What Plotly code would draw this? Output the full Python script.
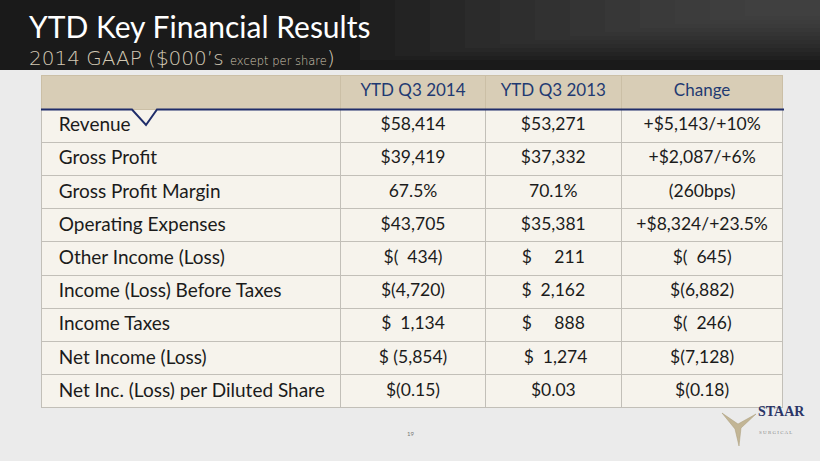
import plotly.graph_objects as go

W, H = 820, 461

# table data
headers = ["", "YTD Q3 2014", "YTD Q3 2013", "Change"]
items = [
    "Revenue",
    "Gross Profit",
    "Gross Profit Margin",
    "Operating Expenses",
    "Other Income (Loss)",
    "Income (Loss) Before Taxes",
    "Income Taxes",
    "Net Income (Loss)",
    "Net Inc. (Loss) per Diluted Share",
]
nb = "\u00a0"
ytd_2014 = ["$58,414", "$39,419", "67.5%", "$43,705", f"$({nb}{nb}434)",
            "$(4,720)", f"${nb}{nb}1,134", "$ (5,854)", "$(0.15)"]
ytd_2013 = ["$53,271", "$37,332", "70.1%", "$35,381", f"${nb}{nb}{nb}{nb}{nb}211",
            f"${nb}{nb}2,162", f"${nb}{nb}{nb}{nb}{nb}888", f"{nb}${nb}{nb}1,274", "$0.03"]
change = ["+$5,143/+10%", "+$2,087/+6%", "(260bps)", "+$8,324/+23.5%", f"$({nb}{nb}645)",
          "$(6,882)", f"$({nb}{nb}246)", "$(7,128)", "$(0.18)"]

title = "YTD Key Financial Results"
subtitle = "2014 GAAP ($000’s <span style='font-size:11.5px'>except per share</span>)"
page_no = "19"

FONT = "Lato"
NAVY = "#1f3a72"


def px(x):
    return x / W


def py(y):
    return 1 - y / H


# small indent for the row labels, as on the slide
labels = [nb * 2 + s for s in items]
header_vals = [nb * 2 + h if i == 0 else h for i, h in enumerate(headers)]

fig = go.Figure()

fig.add_trace(go.Table(
    domain=dict(x=[px(41), px(784)], y=[py(409), py(75)]),
    columnwidth=[300, 145, 136, 162],
    header=dict(
        values=header_vals,
        fill_color="#d8cdb6",
        line=dict(color="#cbbfa6", width=1),
        font=dict(family=FONT, size=17, color=NAVY),
        align=["left", "center", "center", "center"],
        height=34,
    ),
    cells=dict(
        values=[labels, ytd_2014, ytd_2013, change],
        fill_color="#f6f3ec",
        line=dict(color="#c2bfb8", width=1),
        font=dict(family=FONT, size=[19, 17.5, 17.5, 17.5], color="#1b1b1b"),
        align=["left", "center", "center", "center"],
        height=33.2,
    ),
))

shapes = [
    # dark title band
    dict(type="rect", xref="paper", yref="paper", x0=0, x1=1, y0=py(70), y1=1,
         fillcolor="#1a1a1a", line_width=0, layer="below"),
]
# soft lightening toward the top right of the band
for i in range(12):
    shapes.append(dict(type="rect", xref="paper", yref="paper",
                       x0=px(360 + i * 35), x1=1, y0=py(60 - i * 4), y1=1,
                       fillcolor="#606060", line_width=0, layer="below", opacity=0.07))
shapes += [
    # blue rule under header with notch
    dict(type="path", xref="paper", yref="paper",
         path=(f"M {px(41)},{py(109.5)} L {px(132)},{py(109.5)} "
               f"L {px(146)},{py(125)} L {px(157)},{py(109.5)} L {px(784)},{py(109.5)}"),
         line=dict(color="#1f2d6a", width=2), layer="above"),
    # logo star
    dict(type="path", xref="paper", yref="paper",
         path=(f"M {px(722)},{py(413)} L {px(738)},{py(424)} L {px(756)},{py(414)} "
               f"L {px(741)},{py(428)} L {px(739)},{py(446)} L {px(735)},{py(429)} Z"),
         fillcolor="#c2b595", line=dict(color="#a99a78", width=0.5), layer="above"),
]

annotations = [
    dict(text=title, x=px(27), y=py(25.5), xref="paper", yref="paper",
         xanchor="left", yanchor="middle", showarrow=False,
         font=dict(family=FONT, size=30, color="#ffffff")),
    dict(text=subtitle, x=px(27), y=py(58), xref="paper", yref="paper",
         xanchor="left", yanchor="middle", showarrow=False,
         font=dict(family="DejaVu Sans", size=20, color="#d2c8b4", weight=300)),
    dict(text=page_no, x=px(410), y=py(439), xref="paper", yref="paper",
         showarrow=False, font=dict(family=FONT, size=6, color="#777777")),
    dict(text="<b>STAAR</b>", x=px(756), y=py(421), xref="paper", yref="paper",
         xanchor="left", showarrow=False,
         font=dict(family="Liberation Serif", size=14, color="#2b3567")),
    dict(text="S U R G I C A L", x=px(757), y=py(437), xref="paper", yref="paper",
         xanchor="left", showarrow=False,
         font=dict(family="Liberation Serif", size=5, color="#8a8a8a")),
]

fig.update_layout(
    width=W, height=H,
    margin=dict(l=0, r=0, t=0, b=0),
    paper_bgcolor="#ebebeb",
    plot_bgcolor="#ebebeb",
    shapes=shapes,
    annotations=annotations,
)

fig.write_html("out.html", config={"displayModeBar": False},
               post_script="document.body.style.margin='0';")
